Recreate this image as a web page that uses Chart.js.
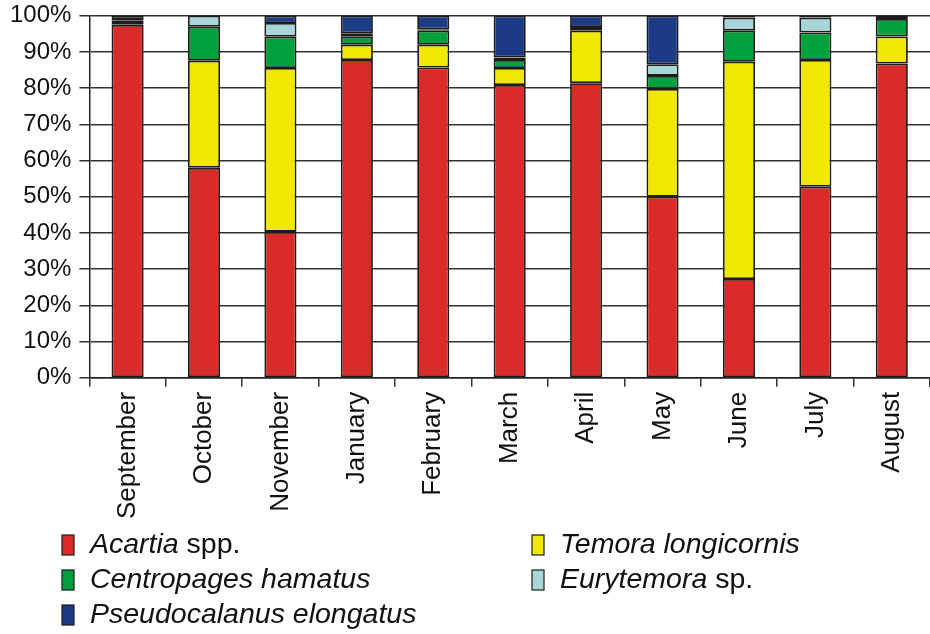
<!DOCTYPE html>
<html>
<head>
<meta charset="utf-8">
<script src="https://cdn.jsdelivr.net/npm/chart.js@4.4.1/dist/chart.umd.min.js"></script>
<style>
  html, body { margin: 0; padding: 0; background: #fff; }
  #wrap { width: 930px; height: 634px; }
</style>
</head>
<body>
<div id="wrap"><canvas id="copepods"></canvas></div>
<script>
var months = ['September', 'October', 'November', 'January', 'February', 'March',
              'April', 'May', 'June', 'July', 'August'];

// percentage share of each taxon per month (null = absent)
var acartia       = [97.5, 58.0, 40.3, 87.8, 85.7, 80.9, 81.4, 50.0, 27.3, 52.8, 86.8];
var temora        = [0.8, 29.6, 45.3, 4.2, 6.3, 4.7, 14.5, 29.8, 60.0, 35.0, 7.5];
var centropages   = [0.3, 9.4, 8.6, 2.2, 3.9, 2.2, 1.0, 3.6, 8.6, 7.6, 4.8];
var eurytemora    = [null, 3.0, 3.8, 1.0, 0.4, null, null, 3.2, 3.6, 4.1, null];
var others        = [1.4, null, null, null, null, 0.7, null, null, 0.5, 0.5, 0.9];
var pseudocalanus = [null, null, 2.0, 4.8, 3.7, 11.5, 3.1, 13.4, null, null, null];

var yTicks = [0, 10, 20, 30, 40, 50, 60, 70, 80, 90, 100];

// legend names: italic part + upright part
var legendItalic = ['Acartia', 'Temora longicornis', 'Centropages hamatus', 'Eurytemora', 'Pseudocalanus elongatus'];
var legendPlain  = [' spp.', '', '', ' sp.', ''];

function ds(label, data, color) {
    return {
        label: label,
        data: data,
        backgroundColor: color,
        borderColor: '#1e1c1a',
        borderWidth: 1.8,
        borderSkipped: false,
        barPercentage: 0.42,
        categoryPercentage: 1.0
    };
}

var legendPlugin = {
    id: 'speciesLegend',
    afterDraw: function(chart) {
        var ctx = chart.ctx;
        var items = [
            {i: 0, col: 0, row: 0, c: '#d92b27'},
            {i: 1, col: 1, row: 0, c: '#f0e800'},
            {i: 2, col: 0, row: 1, c: '#00a03c'},
            {i: 3, col: 1, row: 1, c: '#a8d5d8'},
            {i: 4, col: 0, row: 2, c: '#1c3a85'}
        ];
        var colX = [62, 532];
        var rowY = [545, 580, 615];
        ctx.save();
        ctx.textBaseline = 'middle';
        items.forEach(function(it) {
            var x = colX[it.col], y = rowY[it.row];
            ctx.fillStyle = it.c;
            ctx.fillRect(x, y - 10, 12, 20);
            ctx.strokeStyle = '#1e1c1a';
            ctx.lineWidth = 1.2;
            ctx.strokeRect(x, y - 10, 12, 20);
            ctx.fillStyle = '#111';
            ctx.font = 'italic 28.5px "Liberation Sans", Arial, sans-serif';
            var tx = x + 28;
            ctx.fillText(legendItalic[it.i], tx, y);
            tx += ctx.measureText(legendItalic[it.i]).width;
            ctx.font = '28.5px "Liberation Sans", Arial, sans-serif';
            ctx.fillText(legendPlain[it.i], tx, y);
        });
        ctx.restore();
    }
};

new Chart(document.getElementById('copepods'), {
    type: 'bar',
    data: {
        labels: months,
        datasets: [
            ds('Acartia spp.', acartia, '#d92b27'),
            ds('Temora longicornis', temora, '#f0e800'),
            ds('Centropages hamatus', centropages, '#00a03c'),
            ds('Eurytemora sp.', eurytemora, '#a8d5d8'),
            ds('Other', others, '#231f1c'),
            ds('Pseudocalanus elongatus', pseudocalanus, '#1c3a85')
        ]
    },
    options: {
        responsive: true,
        maintainAspectRatio: false,
        animation: false,
        layout: { padding: { left: 2, right: 0, top: 3, bottom: 110 } },
        plugins: {
            legend: { display: false },
            tooltip: { enabled: false }
        },
        scales: {
            x: {
                stacked: true,
                grid: {
                    offset: true,
                    drawOnChartArea: false,
                    drawTicks: true,
                    tickLength: 9,
                    color: '#333',
                    lineWidth: 1.5
                },
                border: { display: true, color: '#222', width: 1.5 },
                ticks: {
                    maxRotation: 90,
                    minRotation: 90,
                    color: '#111',
                    padding: 5,
                    font: { family: '"Liberation Sans", Arial, sans-serif', size: 26 }
                }
            },
            y: {
                stacked: true,
                min: 0,
                max: 100,
                afterBuildTicks: function(axis) {
                    axis.ticks = yTicks.map(function(v) { return {value: v}; });
                },
                grid: {
                    color: '#333',
                    lineWidth: 1.5,
                    tickLength: 10
                },
                border: { display: true, color: '#222', width: 1.5 },
                ticks: {
                    color: '#111',
                    padding: 8,
                    font: { family: '"Liberation Sans", Arial, sans-serif', size: 24, lineHeight: 0.65 },
                    callback: function(v) { return v + '%'; }
                }
            }
        }
    },
    plugins: [legendPlugin]
});
</script>
</body>
</html>
